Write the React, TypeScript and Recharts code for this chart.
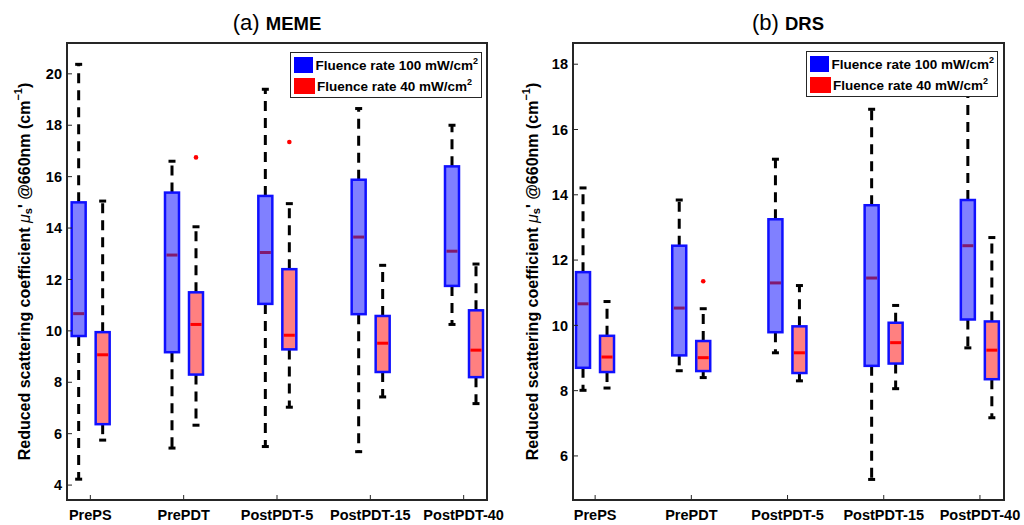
import React from "react";
import { ComposedChart, Bar, XAxis, YAxis, ReferenceArea, Legend } from "recharts";

const groups = ["PrePS", "PrePDT", "PostPDT-5", "PostPDT-15", "PostPDT-40"];
const groupPos = [1, 2, 3, 4, 5];

// (a) MEME - fluence rate 100 mW/cm2
const memeHiMin = [4.23, 5.44, 5.5, 5.3, 10.25];
const memeHiQ1 = [9.8, 9.17, 11.05, 10.65, 11.75];
const memeHiMed = [10.67, 12.95, 13.05, 13.65, 13.1];
const memeHiQ3 = [15.0, 15.38, 15.25, 15.88, 16.4];
const memeHiMax = [20.37, 16.6, 19.4, 18.65, 18.0];
const memeHiOut: number[][] = [[], [], [], [], []];

// (a) MEME - fluence rate 40 mW/cm2
const memeLoMin = [5.75, 6.33, 7.03, 7.43, 7.17];
const memeLoQ1 = [6.37, 8.3, 9.28, 8.4, 8.2];
const memeLoMed = [9.07, 10.25, 9.83, 9.52, 9.25];
const memeLoQ3 = [9.95, 11.5, 12.4, 10.58, 10.8];
const memeLoMax = [15.05, 14.05, 14.95, 12.55, 12.6];
const memeLoOut: number[][] = [[], [16.75], [17.35], [], []];

// (b) DRS - fluence rate 100 mW/cm2
const drsHiMin = [8.01, 8.61, 9.16, 5.28, 9.31];
const drsHiQ1 = [8.7, 9.08, 9.79, 8.76, 10.18];
const drsHiMed = [10.66, 10.53, 11.3, 11.45, 12.44];
const drsHiQ3 = [11.63, 12.44, 13.25, 13.68, 13.84];
const drsHiMax = [14.21, 13.84, 15.09, 16.62, 17.5];
const drsHiOut: number[][] = [[], [], [], [], []];

// (b) DRS - fluence rate 40 mW/cm2
const drsLoMin = [8.08, 8.4, 8.3, 8.06, 7.17];
const drsLoQ1 = [8.57, 8.6, 8.54, 8.83, 8.35];
const drsLoMed = [9.03, 9.01, 9.16, 9.47, 9.24];
const drsLoQ3 = [9.68, 9.52, 9.97, 10.08, 10.12];
const drsLoMax = [10.73, 10.51, 11.22, 10.61, 12.69];
const drsLoOut: number[][] = [[], [11.35], [], [], []];

const memeTicks = [4, 6, 8, 10, 12, 14, 16, 18, 20];
const drsTicks = [6, 8, 10, 12, 14, 16, 18];

const legendNames = ["Fluence rate 100 mW/cm", "Fluence rate 40 mW/cm"];
const legendColors = ["#0000ff", "#ff0000"];

const FONT = '"Liberation Sans", Arial, Helvetica, sans-serif';
const FRAME = "#262626";

const stats = (min: number[], q1: number[], med: number[], q3: number[], max: number[], out: number[][]) =>
  min.map((_, i) => ({ min: min[i], q1: q1[i], med: med[i], q3: q3[i], max: max[i], out: out[i] }));

const buildRows = (hi: any[], lo: any[]) =>
  groupPos.map((x, i) => ({
    x,
    name: groups[i],
    hi: hi[i],
    lo: lo[i],
    hiRange: [hi[i].min, hi[i].max],
    loRange: [lo[i].min, lo[i].max],
  }));

const memeRows = buildRows(
  stats(memeHiMin, memeHiQ1, memeHiMed, memeHiQ3, memeHiMax, memeHiOut),
  stats(memeLoMin, memeLoQ1, memeLoMed, memeLoQ3, memeLoMax, memeLoOut)
);
const drsRows = buildRows(
  stats(drsHiMin, drsHiQ1, drsHiMed, drsHiQ3, drsHiMax, drsHiOut),
  stats(drsLoMin, drsLoQ1, drsLoMed, drsLoQ3, drsLoMax, drsLoOut)
);

// bar spans [min, max]; everything else is placed inside it on the same scale
const BoxShape = (props: any) => {
  const { x, y, width, height, payload, statKey, fill, medianColor } = props;
  const s = payload[statKey];
  const k = height / (s.max - s.min);
  const py = (v: number) => y + (s.max - v) * k;
  const cx = x + width / 2;
  return (
    <g>
      <line x1={cx} x2={cx} y1={py(s.q3)} y2={py(s.max)} stroke="#000" strokeWidth={3} strokeDasharray="10 7" />
      <line x1={cx} x2={cx} y1={py(s.q1)} y2={py(s.min)} stroke="#000" strokeWidth={3} strokeDasharray="10 7" />
      <line x1={cx - 3.5} x2={cx + 3.5} y1={py(s.max)} y2={py(s.max)} stroke="#000" strokeWidth={3} />
      <line x1={cx - 3.5} x2={cx + 3.5} y1={py(s.min)} y2={py(s.min)} stroke="#000" strokeWidth={3} />
      <rect x={x} y={py(s.q3)} width={width} height={py(s.q1) - py(s.q3)} fill={fill} stroke="#1010ff" strokeWidth={2.5} />
      <line x1={x + 1.5} x2={x + width - 1.5} y1={py(s.med)} y2={py(s.med)} stroke={medianColor} strokeWidth={3} />
      {s.out.map((o: number, i: number) => (
        <circle key={i} cx={cx} cy={py(o)} r={2.3} fill="#ff0000" />
      ))}
    </g>
  );
};

const LegendBox = () => (
  <div style={{ border: `1.5px solid ${FRAME}`, background: "#fff", padding: "1px 3px", boxSizing: "border-box", width: 192 }}>
    {legendNames.map((n, i) => (
      <div key={n} style={{ display: "flex", alignItems: "center", height: 21 }}>
        <span style={{ display: "inline-block", width: 21, height: 16, background: legendColors[i], marginRight: 2 }} />
        <span style={{ fontSize: 13.5, fontWeight: "bold", whiteSpace: "nowrap", color: "#000" }}>
          {n}
          <sup style={{ fontSize: 9 }}>2</sup>
        </span>
      </div>
    ))}
  </div>
);

const tickStyle = { fill: "#000", fontSize: 14.5, fontWeight: "bold" };

const YLabel = ({ viewBox, offsetX }: any) => {
  const cx = (viewBox?.x ?? 0) + offsetX;
  const cy = (viewBox?.y ?? 0) + (viewBox?.height ?? 0) / 2;
  return (
    <text x={cx} y={cy} transform={`rotate(-90 ${cx} ${cy})`} textAnchor="middle" dominantBaseline="central" fontSize={16} fontWeight="bold" fill="#000">
      Reduced scattering coefficient{" "}
      <tspan fontStyle="italic" fontWeight="normal">μ</tspan>
      <tspan dy={4} fontSize={11}>s</tspan>
      <tspan dy={-4}>' @660nm (cm</tspan>
      <tspan dy={-6} fontSize={11}>−1</tspan>
      <tspan dy={6}>)</tspan>
    </text>
  );
};

const Panel = ({ rows, tag, name, titleX, yDomain, yTicks, xDomain, margin, yWidth, labelX, legendLeft, legendTop }: any) => (
  <div style={{ position: "relative", width: 512, height: 525 }}>
    <div
      style={{
        position: "absolute",
        left: titleX - 100,
        width: 200,
        top: 12,
        lineHeight: "22px",
        textAlign: "center",
        whiteSpace: "nowrap",
        color: "#000",
        zIndex: 2,
      }}
    >
      <span style={{ fontSize: 22 }}>{tag} </span>
      <span style={{ fontSize: 18.5, fontWeight: "bold" }}>{name}</span>
    </div>
    <ComposedChart width={512} height={525} data={rows} margin={margin} barGap={10}>
      <XAxis
        xAxisId="main"
        dataKey="x"
        type="number"
        domain={xDomain}
        ticks={groupPos}
        interval={0}
        allowDataOverflow
        tickFormatter={(v: number) => groups[v - 1]}
        height={25}
        tickSize={-5}
        tickMargin={15}
        axisLine={false}
        stroke={FRAME}
        tick={tickStyle}
      />
      <XAxis
        xAxisId="top"
        orientation="top"
        dataKey="x"
        type="number"
        domain={xDomain}
        ticks={groupPos}
        interval={0}
        allowDataOverflow
        tickFormatter={() => ""}
        height={0}
        tickSize={-5}
        axisLine={false}
        stroke={FRAME}
      />
      <YAxis
        yAxisId="main"
        type="number"
        domain={yDomain}
        ticks={yTicks}
        interval={0}
        allowDataOverflow
        width={yWidth}
        tickSize={-5}
        tickMargin={10}
        axisLine={false}
        stroke={FRAME}
        tick={tickStyle}
        label={{ content: (p: any) => <YLabel {...p} offsetX={labelX} /> }}
      />
      <YAxis
        yAxisId="right"
        orientation="right"
        type="number"
        domain={yDomain}
        ticks={yTicks}
        interval={0}
        allowDataOverflow
        width={0}
        tickSize={-5}
        tickFormatter={() => ""}
        axisLine={false}
        stroke={FRAME}
      />
      <ReferenceArea
        xAxisId="main"
        yAxisId="main"
        x1={xDomain[0]}
        x2={xDomain[1]}
        y1={yDomain[0]}
        y2={yDomain[1]}
        stroke={FRAME}
        strokeWidth={2}
        fill="none"
        fillOpacity={0}
        ifOverflow="visible"
      />
      <Bar
        xAxisId="main"
        yAxisId="main"
        dataKey="hiRange"
        barSize={14}
        isAnimationActive={false}
        shape={(p: any) => <BoxShape {...p} statKey="hi" fill="#8080ff" medianColor="#801a70" />}
      />
      <Bar
        xAxisId="main"
        yAxisId="main"
        dataKey="loRange"
        barSize={14}
        isAnimationActive={false}
        shape={(p: any) => <BoxShape {...p} statKey="lo" fill="#ff8080" medianColor="#ff0000" />}
      />
      <Legend
        layout="vertical"
        align="center"
        verticalAlign="middle"
        content={() => <LegendBox />}
        wrapperStyle={{ left: legendLeft, top: legendTop, width: 192 }}
      />
    </ComposedChart>
  </div>
);

export default function App() {
  return (
    <div style={{ position: "absolute", left: 0, top: 0, width: 1024, height: 525, display: "flex", background: "#fff", fontFamily: FONT }}>
      <Panel
        rows={memeRows}
        tag="(a)"
        name="MEME"
        titleX={277}
        yDomain={[3.42, 21.2]}
        yTicks={memeTicks}
        xDomain={[0.75, 5.25]}
        margin={{ top: 43, right: 25, bottom: 0, left: 0 }}
        yWidth={67}
        labelX={24}
        legendLeft={290}
        legendTop={52}
      />
      <Panel
        rows={drsRows}
        tag="(b)"
        name="DRS"
        titleX={276}
        yDomain={[4.65, 18.65]}
        yTicks={drsTicks}
        xDomain={[0.77, 5.25]}
        margin={{ top: 43, right: 20, bottom: 0, left: 0 }}
        yWidth={61}
        labelX={20}
        legendLeft={294}
        legendTop={51}
      />
    </div>
  );
}
